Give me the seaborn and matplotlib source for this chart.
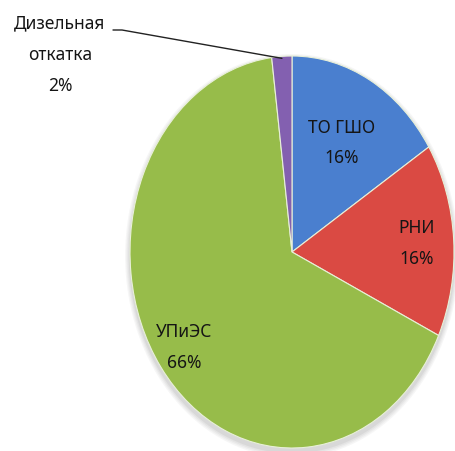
import numpy as np
import matplotlib
matplotlib.use("Agg")
import matplotlib.pyplot as plt
import seaborn as sns
from matplotlib.patches import Ellipse

# data
labels = ["ТО ГШО", "РНИ", "УПиЭС", "Дизельная\nоткатка"]
shares = [16, 16, 66, 2]
colors = ["#4A7FCF", "#DA4A43", "#97BC4A", "#8360B0"]
# how far from the centre each label sits (fraction of radius)
label_dist = [0.64, 0.77, 0.82, None]

sns.set_theme(style="white")
plt.rcParams["font.family"] = ["Noto Sans", "DejaVu Sans"]

W, H = 456, 452
fig = plt.figure(figsize=(W / 100, H / 100), dpi=100)
ax = fig.add_axes([0, 0, 1, 1])

# pie centre and radii in pixels (the pie is drawn as an ellipse)
cx, cy, rx, ry = 292, 253, 162, 196

def to_data(px, py):
    return (px - cx) / rx, (cy - py) / ry

# soft shadow behind the pie
for i, a in enumerate([0.05, 0.05, 0.06, 0.08]):
    grow = 0.06 - i * 0.015
    ax.add_patch(Ellipse((0.0, -0.02), 2 + grow, 2 + grow, color="#555555",
                         alpha=a, lw=0, zorder=0))

wedges, _ = ax.pie(shares, colors=colors, startangle=90, counterclock=False,
                   wedgeprops=dict(edgecolor="#E8F0D8", linewidth=0.8))

for w, name, share, d in zip(wedges, labels, shares, label_dist):
    if d is None:
        continue
    mid = np.deg2rad((w.theta1 + w.theta2) / 2)
    ax.text(d * np.cos(mid), d * np.sin(mid), f"{name}\n{share}%",
            ha="center", va="center", fontsize=12.5, color="#151515",
            fontweight="medium", linespacing=1.9, zorder=5)

# outside label for the small slice with a leader line
small = wedges[3]
tip = np.deg2rad((small.theta1 + small.theta2) / 2)
tx, ty = to_data(60, 55)
ax.text(tx, ty, f"{labels[3]}\n{shares[3]}%", ha="center", va="center",
        fontsize=12.5, color="#151515", fontweight="medium",
        linespacing=1.95, zorder=5)
lx0, ly0 = to_data(122, 31)
lx1, ly1 = to_data(113, 31)
ax.plot([np.cos(tip) * 0.99, lx0, lx1], [np.sin(tip) * 0.99, ly0, ly1],
        color="#222222", lw=1.0, zorder=4)

ax.set_aspect("auto")
ax.set_xlim(to_data(0, 0)[0], to_data(W, 0)[0])
ax.set_ylim(to_data(0, H)[1], to_data(0, 0)[1])
ax.axis("off")

fig.savefig("out.png", dpi=100)
